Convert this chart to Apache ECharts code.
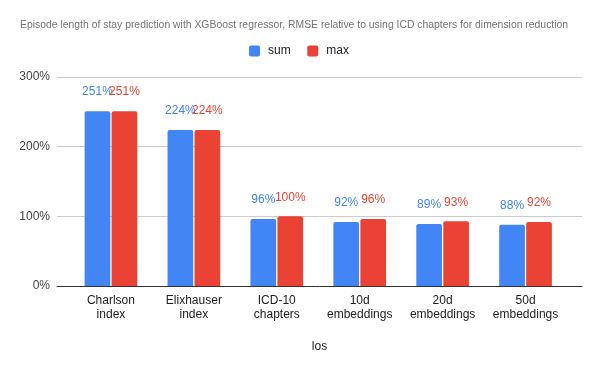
<!DOCTYPE html>
<html><head><meta charset="utf-8">
<script src="https://cdn.jsdelivr.net/npm/echarts@6/dist/echarts.min.js"></script>
<style>html,body{margin:0;padding:0;background:#fff}#c{width:600px;height:371px}</style>
</head><body><div id="c"></div>
<script>
const categories = ['Charlson\nindex','Elixhauser\nindex','ICD-10\nchapters','10d\nembeddings','20d\nembeddings','50d\nembeddings'];
const sumValues = [251, 224, 96, 92, 89, 88];
const maxValues = [251, 224, 100, 96, 93, 92];
const yTicks = [0, 100, 200, 300];
const FONT = '"Liberation Sans", Arial, sans-serif';
const chart = echarts.init(document.getElementById('c'), null, {renderer:'canvas'});
const lbl = (c) => ({show:true, position:'top', distance:13, color:c, fontSize:12, fontFamily:FONT, formatter:'{c}%'});
const ICON = 'path://M2,0 H9 Q11,0 11,2 V9 Q11,11 9,11 H2 Q0,11 0,9 V2 Q0,0 2,0 Z';
chart.setOption({
  animation:false,
  title:{text:'Episode length of stay prediction with XGBoost regressor, RMSE relative to using ICD chapters for dimension reduction',
    left:20, top:20, padding:0, textStyle:{fontSize:10.4, fontWeight:'normal', color:'#757575', fontFamily:FONT}},
  legend:{left:249, top:45, padding:0, itemWidth:11, itemHeight:11, itemGap:16.6, icon:ICON,
    textStyle:{fontSize:12, color:'#222', fontFamily:FONT, padding:[0,0,0,3]}, data:['sum','max']},
  grid:[
    {left:69.5, right:33, top:77, bottom:85},
    {left:57, right:18, top:77, bottom:85}
  ],
  xAxis:[
    {type:'category', gridIndex:0, data:categories, axisLine:{show:false}, axisTick:{show:false},
      axisLabel:{color:'#222', fontSize:12, fontFamily:FONT, lineHeight:14, margin:8, interval:0}},
    {type:'value', gridIndex:1, min:0, max:1, axisLine:{show:true, lineStyle:{color:'#333', width:1}},
      axisTick:{show:false}, axisLabel:{show:false}, splitLine:{show:false},
      name:'los', nameLocation:'middle', nameGap:55, nameTextStyle:{color:'#222', fontSize:12, fontFamily:FONT}}
  ],
  yAxis:[
    {type:'value', gridIndex:0, min:0, max:300, show:false, splitLine:{show:false}},
    {type:'value', gridIndex:1, min:0, max:300, interval:100, axisLine:{show:false}, axisTick:{show:false},
      axisLabel:{color:'#444', fontSize:12, fontFamily:FONT, margin:7, formatter:'{value}%',
        customValues: yTicks},
      splitLine:{lineStyle:{color:'#cccccc', width:1}}}
  ],
  series:[
    {name:'sum', type:'bar', xAxisIndex:0, yAxisIndex:0, data:sumValues, barWidth:25.7, barGap:'5%',
      itemStyle:{color:'#4285F4', borderRadius:[2,2,0,0]}, label:lbl('#4285F4')},
    {name:'max', type:'bar', xAxisIndex:0, yAxisIndex:0, data:maxValues, barWidth:25.7, barGap:'5%',
      itemStyle:{color:'#EA4335', borderRadius:[2,2,0,0]}, label:lbl('#EA4335')}
  ]
});
</script></body></html>
